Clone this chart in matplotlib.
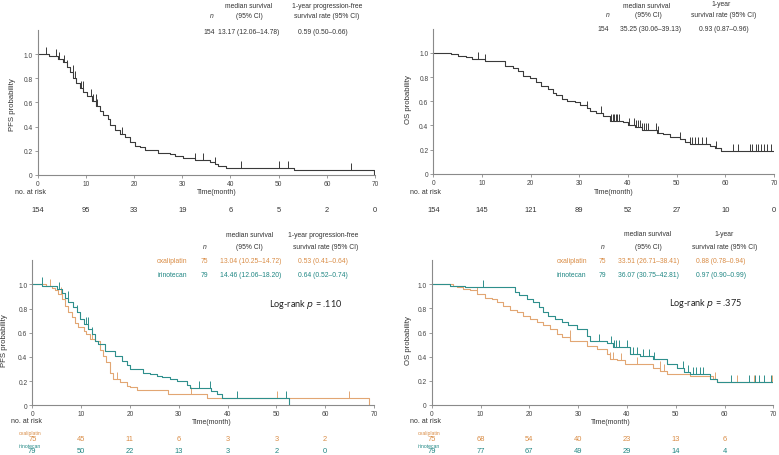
import numpy as np
import matplotlib
matplotlib.use("Agg")
import matplotlib.pyplot as plt
import matplotlib.transforms as mtransforms

W, H = 779, 456
ORANGE = "#E2A673"
TEAL = "#2E8F8C"
ORANGE_TXT = "#D98C45"
TEAL_TXT = "#1F8683"
DARK = "#3a3a3a"

# ---- overall PFS (step breakpoints: time, survival) ----
pfs_all_t = [0, 2.4, 4.3, 5.3, 6.0, 6.7, 7.4, 8.0, 8.8, 9.5, 10.3, 11.2, 12.2, 12.9, 13.6, 14.5,
             15.1, 16.0, 17.1, 18.1, 19.2, 20.2, 21.2, 22.3, 25.0, 27.5, 28.5, 30.2, 32.6, 35.7,
             36.7, 37.4, 39.1, 53.1, 69.7]
pfs_all_s = [1.0, 0.985, 0.96, 0.93, 0.89, 0.85, 0.80, 0.76, 0.72, 0.69, 0.65, 0.61, 0.57, 0.53,
             0.50, 0.46, 0.41, 0.37, 0.34, 0.31, 0.27, 0.24, 0.23, 0.21, 0.185, 0.174, 0.16, 0.138,
             0.122, 0.11, 0.09, 0.072, 0.055, 0.039, 0.0]
pfs_all_cens = [1.8, 3.8, 4.5, 5.4, 6.0, 7.3, 7.7, 9.0, 9.4, 11.0, 11.5, 12.0, 12.4, 17.5,
                32.6, 34.3, 36.7, 42.1, 50.1, 51.9, 65.0]

# ---- overall OS ----
os_all_t = [0, 3.6, 5.1, 6.8, 7.9, 10.7, 13.0, 14.7, 16.4, 17.5, 18.5, 19.8, 21.2, 22.2, 23.6,
            24.6, 25.3, 26.4, 27.4, 29.1, 30.1, 31.5, 32.2, 33.5, 34.9, 36.3, 39.0, 40.0, 41.4,
            42.8, 45.9, 47.2, 48.6, 50.6, 51.7, 52.7, 56.8, 57.8, 59.2, 70]
os_all_s = [1.0, 0.99, 0.978, 0.964, 0.95, 0.935, 0.93, 0.895, 0.876, 0.853, 0.81, 0.79, 0.762,
            0.724, 0.70, 0.668, 0.652, 0.62, 0.605, 0.59, 0.569, 0.544, 0.522, 0.503, 0.48, 0.44,
            0.425, 0.40, 0.384, 0.365, 0.337, 0.329, 0.30, 0.287, 0.26, 0.246, 0.232, 0.213, 0.19,
            0.19]
os_all_cens = [9.2, 10.7, 31.5, 34.5, 36.6, 36.9, 37.2, 37.5, 37.8, 38.2, 40.2, 41.2, 41.6, 42.0,
               42.4, 42.8, 43.3, 43.7, 44.2, 45.7, 46.2, 50.6, 52.7, 53.1, 53.7, 54.4, 55.2, 56.0,
               58.0, 61.5, 62.6, 65.1, 65.5, 66.2, 66.8, 67.4, 68.0, 68.6, 69.4]

# ---- PFS by arm ----
pfs_ox_t = [0, 2.9, 4.0, 4.6, 5.3, 6.0, 6.7, 7.4, 8.1, 8.7, 9.4, 10.5, 11.1, 11.8, 12.8, 13.9,
            14.5, 15.2, 15.9, 16.6, 18.0, 19.3, 20.0, 21.4, 27.8, 35.7, 69.0]
pfs_ox_s = [1.0, 0.983, 0.967, 0.95, 0.92, 0.88, 0.82, 0.77, 0.73, 0.68, 0.65, 0.61, 0.59, 0.55,
            0.53, 0.46, 0.41, 0.36, 0.27, 0.22, 0.19, 0.16, 0.15, 0.124, 0.096, 0.062, 0.0]
pfs_ox_cens = [3.7, 5.9, 12.2, 17.4, 32.6, 50.1, 64.9]

pfs_iri_t = [0, 2.0, 3.6, 5.0, 6.0, 6.7, 7.4, 8.4, 9.1, 9.8, 10.5, 11.5, 12.2, 12.8, 13.5, 14.9,
             17.0, 18.3, 19.3, 20.0, 22.7, 24.1, 25.5, 26.5, 28.2, 29.6, 31.6, 32.3, 36.7, 37.8,
             38.8, 52.5]
pfs_iri_s = [1.0, 0.99, 0.983, 0.96, 0.93, 0.89, 0.85, 0.81, 0.77, 0.71, 0.67, 0.63, 0.59, 0.53,
             0.51, 0.445, 0.405, 0.37, 0.33, 0.30, 0.27, 0.26, 0.245, 0.23, 0.22, 0.20, 0.17, 0.14,
             0.12, 0.09, 0.058, 0.0]
pfs_iri_cens = [1.9, 5.4, 7.3, 9.2, 10.9, 11.4, 12.2, 34.1, 36.4, 42.0, 51.9]

# ---- OS by arm ----
os_ox_t = [0, 4.4, 5.1, 6.5, 7.9, 9.2, 10.9, 12.3, 13.3, 14.7, 16.1, 17.4, 18.8, 20.1, 21.5, 22.9,
           24.2, 25.6, 26.6, 28.4, 31.8, 33.8, 35.9, 36.5, 37.9, 39.6, 45.4, 46.8, 48.2, 52.9,
           57.7, 58.4, 70]
os_ox_s = [1.0, 0.99, 0.975, 0.96, 0.95, 0.92, 0.89, 0.878, 0.85, 0.82, 0.79, 0.77, 0.74, 0.71,
           0.685, 0.66, 0.63, 0.59, 0.56, 0.53, 0.49, 0.46, 0.42, 0.38, 0.37, 0.34, 0.31, 0.285,
           0.257, 0.243, 0.215, 0.19, 0.19]
os_ox_cens = [9.2, 28.3, 36.5, 37.2, 38.8, 42.0, 46.7, 47.5, 58.0, 62.6, 66.0, 69.8]

os_iri_t = [0, 3.8, 6.8, 17.1, 17.8, 19.5, 20.8, 21.9, 22.9, 23.9, 25.3, 26.6, 28.0, 29.7, 31.8,
            32.4, 35.9, 37.2, 40.6, 42.7, 45.4, 48.2, 50.2, 51.6, 52.9, 57.0, 58.4, 70]
os_iri_s = [1.0, 0.99, 0.975, 0.94, 0.91, 0.88, 0.85, 0.81, 0.77, 0.74, 0.71, 0.685, 0.66, 0.63,
            0.57, 0.53, 0.51, 0.48, 0.42, 0.41, 0.38, 0.34, 0.31, 0.27, 0.257, 0.215, 0.188, 0.188]
os_iri_cens = [10.6, 34.2, 36.8, 37.3, 37.8, 38.3, 40.0, 41.2, 42.0, 43.3, 44.6, 45.6, 51.5, 52.6,
               53.5, 54.2, 54.9, 55.6, 61.3, 65.1, 66.3, 67.1, 68.1, 69.5]

# ---- numbers at risk ----
risk_times = [0, 10, 20, 30, 40, 50, 60, 70]
pfs_all_risk = [154, 95, 33, 19, 6, 5, 2, 0]
os_all_risk = [154, 145, 121, 89, 52, 27, 10, 0]
pfs_ox_risk = [75, 45, 11, 6, 3, 3, 2]
pfs_iri_risk = [79, 50, 22, 13, 3, 2, 0]
os_ox_risk = [75, 68, 54, 40, 23, 13, 6]
os_iri_risk = [79, 77, 67, 49, 29, 14, 4]

plt.rcParams['font.family'] = ['Liberation Sans', 'DejaVu Sans']
fig = plt.figure(figsize=(W / 100, H / 100), dpi=100, facecolor='w')


def px(x, y):
    return x / W, 1 - y / H


def make_ax(x0, x1, y0, y1):
    # x0/x1: pixel of t=0 / t=70 ; y0: pixel of s=0 ; y1: pixel of s=1.0
    unit = (y0 - y1)
    top = y0 - 1.2 * unit
    ax = fig.add_axes([x0 / W, 1 - y0 / H, (x1 - x0) / W, (y0 - top) / H])
    ax.set_xlim(0, 70)
    ax.set_ylim(0, 1.2)
    for s in ['top', 'right']:
        ax.spines[s].set_visible(False)
    for s in ['left', 'bottom']:
        ax.spines[s].set_color('#8a8a8a')
        ax.spines[s].set_linewidth(0.8)
    ax.set_xticks(range(0, 71, 10))
    ax.set_yticks([0, 0.2, 0.4, 0.6, 0.8, 1.0])
    ax.set_yticklabels(['0', '0.2', '0.4', '0.6', '0.8', '1.0'])
    ax.tick_params(labelsize=4.8, colors='#8a8a8a', labelcolor='#444444', length=2, width=0.6, pad=1.5)
    return ax


def km(ax, t, s, cens, color, lw=0.8):
    ax.step(t, s, where='post', color=color, lw=lw)
    t = np.asarray(t)
    s = np.asarray(s)
    idx = np.searchsorted(t, cens, side='right') - 1
    sv = s[idx]
    ax.vlines(cens, sv, sv + 0.058, color=color, lw=0.7)


def risk_row(ax, ypix, vals, color, size=5.4):
    tr = mtransforms.blended_transform_factory(ax.transData, fig.transFigure)
    for t, v in zip(risk_times, vals):
        ax.text(t, 1 - ypix / H, str(v), transform=tr, ha='center', va='center',
                fontsize=size, color=color, clip_on=False)


def ftext(x, y, s, size=4.9, color='#333333', ha='center', **kw):
    fig.text(*px(x, y), s, fontsize=size, color=color, ha=ha, va='center', **kw)


# ================= top-left: PFS overall =================
ax1 = make_ax(37.7, 375, 176, 55)
km(ax1, pfs_all_t, pfs_all_s, pfs_all_cens, DARK)
ftext(13, 105, 'PFS probability', size=5.6, rotation=90)
ftext(15, 192.7, 'no. at risk', size=5.0, ha='left')
ftext(217, 192.7, 'Time(month)', size=5.0)
risk_row(ax1, 210.7, pfs_all_risk, '#333333')
ftext(249, 6, 'median survival')
ftext(327, 6, '1-year progression-free')
ftext(212, 16, 'n', style='italic')
ftext(249.5, 16, '(95% CI)')
ftext(327, 16, 'survival rate (95% CI)')
ftext(208.7, 32, '154')
ftext(248.3, 32, '13.17 (12.06\u201314.78)')
ftext(323, 32, '0.59 (0.50\u20130.66)')

# ================= top-right: OS overall =================
ax2 = make_ax(433.3, 774, 174.7, 54)
km(ax2, os_all_t, os_all_s, os_all_cens, DARK)
ftext(408.3, 100, 'OS probability', size=5.6, rotation=90)
ftext(410, 192.7, 'no. at risk', size=5.0, ha='left')
ftext(614, 192.7, 'Time(month)', size=5.0)
risk_row(ax2, 210.7, os_all_risk, '#333333')
ftext(647, 6, 'median survival')
ftext(721, 5, '1-year')
ftext(608, 15.7, 'n', style='italic')
ftext(648, 15.7, '(95% CI)')
ftext(724, 15.7, 'survival rate (95% CI)')
ftext(603, 29.7, '154')
ftext(650, 29.7, '35.25 (30.06\u201339.13)')
ftext(723.7, 29.7, '0.93 (0.87\u20130.96)')

# ================= bottom-left: PFS by arm =================
ax3 = make_ax(32.3, 374, 406.3, 285.3)
km(ax3, pfs_ox_t, pfs_ox_s, pfs_ox_cens, ORANGE)
km(ax3, pfs_iri_t, pfs_iri_s, pfs_iri_cens, TEAL)
ftext(5, 341, 'PFS probability', size=5.6, rotation=90)
ftext(10.7, 421.3, 'no. at risk', size=5.0, ha='left')
ftext(212, 423, 'Time(month)', size=5.0)
ftext(30, 434, 'oxaliplatin', size=3.6, color=ORANGE_TXT)
ftext(30, 446.3, 'irinotecan', size=3.6, color=TEAL_TXT)
risk_row(ax3, 439.7, pfs_ox_risk, ORANGE_TXT)
risk_row(ax3, 451.3, pfs_iri_risk, TEAL_TXT)
ftext(249.3, 235.3, 'median survival')
ftext(323.3, 235.3, '1-year progression-free')
ftext(204.3, 247.3, 'n', style='italic')
ftext(249.8, 247.3, '(95% CI)')
ftext(325.3, 247.3, 'survival rate (95% CI)')
for yy, name, n, med, yr, c in [(261.7, 'oxaliplatin', '75', '13.04 (10.25\u201314.72)', '0.53 (0.41\u20130.64)', ORANGE_TXT),
                                (275.7, 'irinotecan', '79', '14.46 (12.06\u201318.20)', '0.64 (0.52\u20130.74)', TEAL_TXT)]:
    ftext(172, yy, name, color=c)
    ftext(204, yy, n, color=c)
    ftext(250.2, yy, med, color=c)
    ftext(323, yy, yr, color=c)
fig.text(*px(269, 304.7), 'Log-rank $\\it{p}$ = .110', fontsize=6.6, family=['Lato', 'DejaVu Sans'],
         ha='left', va='center', color='#222222')

# ================= bottom-right: OS by arm =================
ax4 = make_ax(431.7, 773.3, 406, 285.3)
km(ax4, os_ox_t, os_ox_s, os_ox_cens, ORANGE)
km(ax4, os_iri_t, os_iri_s, os_iri_cens, TEAL)
ftext(408.3, 341, 'OS probability', size=5.6, rotation=90)
ftext(410, 421.3, 'no. at risk', size=5.0, ha='left')
ftext(611, 423, 'Time(month)', size=5.0)
ftext(429, 434, 'oxaliplatin', size=3.6, color=ORANGE_TXT)
ftext(429, 446.3, 'irinotecan', size=3.6, color=TEAL_TXT)
risk_row(ax4, 439.7, os_ox_risk, ORANGE_TXT)
risk_row(ax4, 451.3, os_iri_risk, TEAL_TXT)
ftext(648, 235, 'median survival')
ftext(723.8, 235, '1-year')
ftext(602.3, 247.3, 'n', style='italic')
ftext(648.7, 247.3, '(95% CI)')
ftext(724.3, 247.3, 'survival rate (95% CI)')
for yy, name, n, med, yr, c in [(261.7, 'oxaliplatin', '75', '33.51 (26.71\u201338.41)', '0.88 (0.78\u20130.94)', ORANGE_TXT),
                                (275.7, 'irinotecan', '79', '36.07 (30.75\u201342.81)', '0.97 (0.90\u20130.99)', TEAL_TXT)]:
    ftext(571.7, yy, name, color=c)
    ftext(602.7, yy, n, color=c)
    ftext(648.3, yy, med, color=c)
    ftext(721, yy, yr, color=c)
fig.text(*px(669.3, 304), 'Log-rank $\\it{p}$ = .375', fontsize=6.6, family=['Lato', 'DejaVu Sans'],
         ha='left', va='center', color='#222222')

fig.savefig('out.png', dpi=100, facecolor='w')
